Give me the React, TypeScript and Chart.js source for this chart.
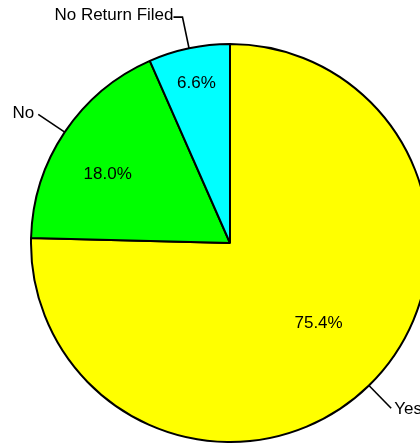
import React, { useEffect, useRef } from "react";
import { Chart, registerables } from "chart.js";

Chart.register(...registerables);

const categories = ["Yes", "No", "No Return Filed"];
const percentValues = [75.4, 18.0, 6.6];
const sliceColors = ["#FFFF00", "#00FF00", "#00FFFF"];

// style constants (label placement)
const innerLabelRadius = [0.58, 0.71, 0.82];
const innerLabelNudge = [
  [8, -2],
  [-5, 10],
  [0, 0],
];
const FONT = '17px "Liberation Sans", Arial, sans-serif';

const labelPlugin = {
  id: "pieLabels",
  afterDatasetsDraw(chart: any) {
    const ctx = chart.ctx as CanvasRenderingContext2D;
    const meta = chart.getDatasetMeta(0);
    ctx.save();
    ctx.font = FONT;
    ctx.fillStyle = "#000";
    ctx.strokeStyle = "#000";
    ctx.lineWidth = 1.6;
    meta.data.forEach((arc: any, i: number) => {
      const { x, y, startAngle, endAngle, outerRadius } = arc.getProps(
        ["x", "y", "startAngle", "endAngle", "outerRadius"],
        true
      );
      const mid = (startAngle + endAngle) / 2;
      const cx = Math.cos(mid);
      const cy = Math.sin(mid);
      // inner percentage
      const rIn = outerRadius * innerLabelRadius[i];
      ctx.textAlign = "center";
      ctx.textBaseline = "middle";
      ctx.fillText(
        percentValues[i].toFixed(1) + "%",
        x + cx * rIn + innerLabelNudge[i][0],
        y + cy * rIn + innerLabelNudge[i][1]
      );
      // leader line
      const x0 = x + cx * outerRadius;
      const y0 = y + cy * outerRadius;
      const r1 = outerRadius * 1.16;
      const x1 = x + cx * r1;
      const y1 = y + cy * r1;
      ctx.beginPath();
      ctx.moveTo(x0, y0);
      ctx.lineTo(x1, y1);
      const top = Math.abs(cx) < 0.3 && cy < 0;
      let tx = x1;
      let ty = y1;
      if (top) {
        tx = x1 - 9;
        ctx.lineTo(tx, y1);
        ctx.stroke();
        ctx.textAlign = "right";
        ctx.fillText(categories[i], tx, y1 - 2);
      } else {
        ctx.stroke();
        if (cx < 0) {
          ctx.textAlign = "right";
          ctx.fillText(categories[i], tx - 4, ty - 1);
        } else {
          ctx.textAlign = "left";
          ctx.fillText(categories[i], tx + 3, ty + 1);
        }
      }
    });
    ctx.restore();
  },
};

export default function App() {
  const ref = useRef<HTMLCanvasElement | null>(null);
  useEffect(() => {
    if (!ref.current) return;
    const chart = new Chart(ref.current, {
      type: "pie",
      data: {
        labels: categories,
        datasets: [
          {
            data: percentValues,
            backgroundColor: sliceColors,
            borderColor: "#000",
            borderWidth: 2,
            clip: false as any,
          },
        ],
      },
      options: {
        responsive: false,
        animation: false,
        radius: 199,
        layout: { padding: { left: 40, top: 43, right: 0, bottom: 0 } },
        plugins: {
          legend: { display: false },
          tooltip: { enabled: false },
        },
        events: [],
      } as any,
      plugins: [labelPlugin],
    });
    return () => chart.destroy();
  }, []);
  return (
    <div style={{ position: "absolute", left: 0, top: 0, width: 420, height: 443, background: "#fff" }}>
      <canvas ref={ref} width={420} height={443} style={{ display: "block" }} />
    </div>
  );
}
